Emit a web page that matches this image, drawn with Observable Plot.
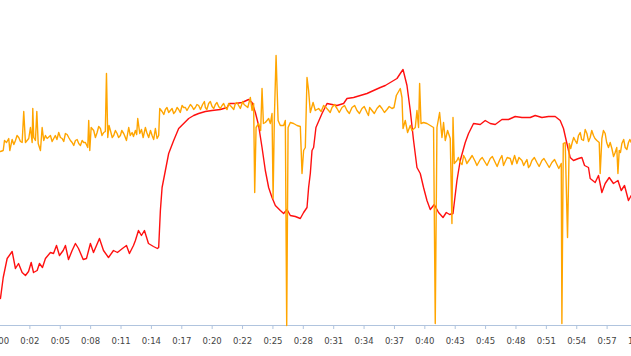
<!DOCTYPE html>
<html>
<head>
<meta charset="utf-8">
<script src="https://cdn.jsdelivr.net/npm/d3@7"></script>
<script src="https://cdn.jsdelivr.net/npm/@observablehq/plot@0.6"></script>
<style>
  html, body { margin: 0; padding: 0; background: #fff; overflow: hidden; }
</style>
</head>
<body>
<div id="chart"></div>
<script>
// Time in seconds, values in arbitrary units
const redTime = [0.09,0.35,0.72,1.19,1.50,1.79,2.13,2.44,2.73,2.98,3.20,3.54,3.76,4.04,4.32,4.79,5.08,5.36,5.64,5.99,6.20,6.49,6.83,7.14,7.43,7.87,8.18,8.55,8.84,9.40,9.78,10.25,10.72,11.09,11.56,11.94,12.22,12.60,12.78,13.07,13.35,13.63,14.01,14.48,14.85,14.97,15.13,15.29,15.60,15.91,16.38,16.85,17.32,17.79,18.26,18.73,19.36,19.99,20.77,21.40,21.62,22.18,22.81,23.43,23.75,24.06,24.37,24.69,25.00,25.31,25.63,25.94,26.41,26.72,27.04,27.35,27.82,28.29,28.60,28.92,29.07,29.23,29.39,29.54,29.76,30.33,30.80,31.27,31.74,32.36,32.68,33.30,33.93,34.56,35.18,35.81,36.28,36.91,37.38,37.69,37.95,38.32,38.63,38.94,39.26,39.57,39.88,40.20,40.51,40.89,41.29,41.71,42.02,42.33,42.65,43.02,43.33,43.80,44.11,44.58,45.21,45.68,46.15,46.62,47.25,47.87,48.50,49.13,49.91,50.38,51.01,51.63,52.26,52.73,53.04,53.36,53.67,53.98,54.45,54.77,55.02,55.39,55.55,56.02,56.33,56.65,56.96,57.34,57.74,58.16,58.47,58.78,59.15,59.41];
const redValue = [27,48,67,74,57,62,53,50,54,63,53,55,62,58,67,73,72,80,70,75,80,66,75,82,77,66,67,82,73,87,75,68,75,73,77,80,72,80,85,95,90,95,82,79,77,78,115,138,155,172,185,197,202,207,210,212,214,215,216,218,222,222,223,226,223,213,200,178,155,138,128,120,115,112,116,110,109,107,113,118,138,152,175,178,198,212,222,221,220,222,227,228,230,232,235,238,240,244,247,252,256,240,215,185,158,152,138,125,116,121,113,108,113,111,112,145,165,183,192,202,201,205,202,201,206,206,209,208,208,210,208,209,209,205,197,182,168,165,167,168,160,158,147,143,150,133,142,148,142,145,135,140,125,130];

const orangeTime = [0.09,0.35,0.47,0.66,0.87,0.97,1.19,1.50,1.81,2.13,2.28,2.44,2.75,2.91,3.07,3.13,3.22,3.38,3.51,3.64,3.85,4.01,4.16,4.48,4.79,5.10,5.57,5.89,6.20,6.51,6.83,7.14,7.45,7.77,8.08,8.30,8.39,8.49,8.62,8.86,9.18,9.49,9.80,10.06,10.18,10.43,10.74,11.06,11.37,11.68,11.94,12.15,12.47,12.78,13.00,13.19,13.51,13.72,14.03,14.35,14.66,14.82,14.97,15.07,15.29,15.60,15.91,16.23,16.54,16.85,17.17,17.48,17.79,18.11,18.42,18.73,19.27,19.36,19.67,19.99,20.30,20.61,20.93,21.24,21.55,21.87,22.18,22.49,22.87,23.12,23.59,23.75,23.90,24.00,24.13,24.37,24.56,24.69,24.82,25.00,25.31,25.47,25.63,25.73,25.85,26.01,26.20,26.41,26.72,26.88,27.01,27.14,27.35,27.66,27.98,28.29,28.45,28.60,28.76,28.92,29.07,29.23,29.49,29.70,30.01,30.48,30.95,31.27,31.74,32.21,32.68,33.15,33.62,34.09,34.56,34.81,35.03,35.50,35.97,36.44,36.91,37.32,37.69,37.85,37.95,38.16,38.38,38.63,38.79,39.10,39.26,39.41,39.51,39.64,39.88,40.20,40.51,40.82,40.98,41.14,41.39,41.61,41.76,41.92,42.14,42.39,42.55,42.65,42.77,43.02,43.33,43.80,44.27,44.74,45.21,45.68,46.15,46.62,47.25,47.56,48.03,48.44,48.66,49.13,49.44,49.75,50.07,50.54,51.01,51.48,51.95,52.42,52.83,52.89,53.02,53.20,53.42,53.58,53.86,54.14,54.45,54.61,54.92,55.24,55.55,55.86,56.18,56.40,56.49,56.65,56.96,57.27,57.59,57.90,58.16,58.28,58.53,58.84,59.15,59.41,
  1.35,1.65,1.97,4.32,4.95,5.25,5.40,5.73,6.04,6.36,6.67,6.98,7.30,7.61,7.92,9.02,9.33,9.64,9.95,10.30,10.60,10.90,11.20,11.50,11.80,12.30,12.60,12.90,13.35,13.85,14.20,14.50,
  15.45,15.75,16.07,16.38,16.70,17.00,17.32,17.63,17.95,18.26,18.57,18.90,19.10,19.50,19.83,20.15,20.45,20.77,21.08,21.40,21.70,22.03,22.33,22.65,23.00,23.35,
  30.25,30.70,31.10,31.50,31.95,32.45,32.90,33.40,33.85,34.30,34.70,35.25,35.75,36.20,36.65,37.10,
  43.15,43.50,43.65,43.95,44.45,44.90,45.40,45.85,46.35,46.80,47.05,47.40,47.75,48.20,48.85,49.30,49.60,49.90,50.30,50.75,51.20,51.70,52.20,52.60,
  53.72,54.00,54.30,54.75,55.08,55.40,55.70,56.00,56.80,57.10,57.43,57.75,58.05,58.40,58.70,59.00,59.28];
const orangeValue = [174,175,185,183,187,175,186,185,188,183,214,183,187,198,183,217,188,185,214,182,175,198,185,187,190,187,193,187,192,188,183,185,182,185,183,178,205,175,198,195,193,197,193,252,188,195,190,192,190,192,185,198,193,195,207,192,188,198,188,190,197,187,190,217,214,216,213,217,214,216,220,218,218,219,218,220,224,218,222,219,221,219,220,218,222,218,222,220,224,220,228,215,222,133,198,202,195,237,202,203,207,202,212,127,208,270,205,200,200,205,0,198,203,202,200,199,152,175,178,248,235,213,223,215,217,220,215,218,217,218,215,218,215,217,213,218,215,217,217,216,217,230,237,228,197,205,193,200,195,198,215,198,242,202,203,202,200,198,2,198,213,188,203,185,195,187,102,208,162,165,163,167,167,164,166,163,167,163,170,164,167,170,162,165,163,158,165,163,165,162,163,161,162,2,182,183,88,182,183,185,190,193,185,192,188,190,185,183,152,187,192,178,177,173,152,175,182,178,183,183,
  181,190,184,190,184,190,186,188,184,191,185,180,186,180,183,188,199,190,194,200,188,195,188,195,189,190,189,191,196,193,195,186,
  211,218,215,212,218,213,218,215,221,216,221,216,221,216,224,217,223,217,222,216,220,216,223,217,221,218,
  214,218,213,221,213,220,212,220,212,219,210,212,220,213,219,218,
  168,161,170,162,170,160,168,160,169,159,166,160,168,161,168,160,166,160,168,159,167,158,166,157,
  177,188,182,186,196,184,195,187,195,183,183,169,178,173,186,176,186];

const tickValues = [0,2.857,5.714,8.571,11.429,14.286,17.143,20,22.857,25.714,28.571,31.429,34.286,37.143,40,42.857,45.714,48.571,51.429,54.286,57.143,60];
const tickLabels = ["0:00","0:02","0:05","0:08","0:11","0:14","0:17","0:20","0:22","0:25","0:28","0:31","0:34","0:37","0:40","0:43","0:45","0:48","0:51","0:54","0:57","1:00"];

const red = redTime.map((t, i) => ({t, v: redValue[i]}));
const orange = d3.sort(orangeTime.map((t, i) => ({t, v: orangeValue[i]})), d => d.t);
const labelOf = new Map(tickValues.map((d, i) => [d, tickLabels[i]]));

const chart = Plot.plot({
  width: 631,
  height: 356,
  marginLeft: -1,
  marginRight: -6,
  marginTop: 25,
  marginBottom: 31,
  style: {background: "#fff", fontFamily: "DejaVu Sans", fontSize: "8.5px", overflow: "hidden"},
  x: {domain: [0, 60], axis: null},
  y: {domain: [0, 300], axis: null},
  marks: [
    Plot.ruleY([0], {stroke: "#b0c4de", strokeWidth: 1}),
    Plot.axisX(tickValues, {
      tickSize: 4,
      tickPadding: 8,
      stroke: "#b0c4de",
      fill: "#444",
      label: null,
      tickFormat: d => labelOf.get(d)
    }),
    Plot.line(red, {x: "t", y: "v", stroke: "#ff1010", strokeWidth: 1.4}),
    Plot.line(orange, {x: "t", y: "v", stroke: "#ffa500", strokeWidth: 1.4})
  ]
});
document.getElementById("chart").appendChild(chart);
</script>
</body>
</html>
